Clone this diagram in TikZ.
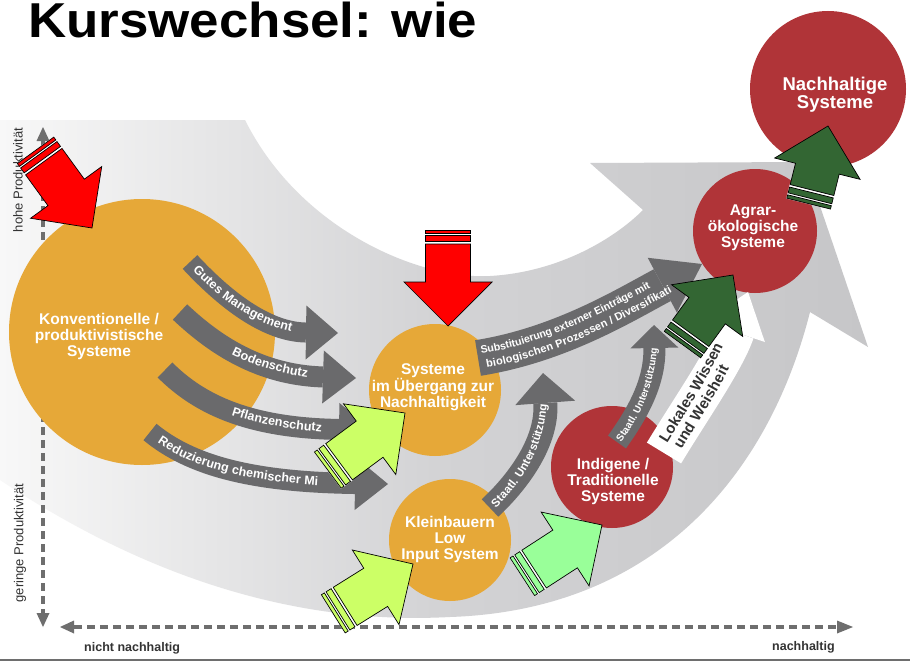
\documentclass[tikz,border=0pt]{standalone}
\usepackage{fontspec}
\setmainfont{Liberation Sans}
\usepackage{graphicx}
\usetikzlibrary{arrows.meta,decorations.text}

\definecolor{orangeC}{HTML}{E6A838}
\definecolor{redC}{HTML}{B03438}
\definecolor{arrowgrey}{HTML}{6A6A6C}
\definecolor{axisgrey}{HTML}{6E6E6E}
\definecolor{textgrey}{HTML}{333333}
\definecolor{limeC}{HTML}{CCFF66}
\definecolor{lgreenC}{HTML}{99FF99}
\definecolor{dgreenC}{HTML}{336633}
\definecolor{swooshL}{HTML}{F8F8F8}
\definecolor{swooshM}{HTML}{D3D3D5}
\definecolor{swooshR}{HTML}{C6C6C8}

\tikzset{
  pics/blockarrow/.style n args={2}{code={
    \fill[white] (-44-#2+1,-23) rectangle (-44-#2-14.5,23);
    \draw[fill=#1, draw=black, line width=0.7pt, line join=miter]
      (0,0) -- (-44,44) -- (-44,22.5) -- (-44-#2,22.5) -- (-44-#2,-22.5) -- (-44,-22.5) -- (-44,-44) -- cycle;
    \draw[fill=#1, draw=black, line width=0.7pt] (-44-#2-2.5,-22.5) rectangle (-44-#2-8.5,22.5);
    \draw[fill=#1, draw=black, line width=0.7pt] (-44-#2-10.5,-22.5) rectangle (-44-#2-14,22.5);
  }},
  circ/.style={circle, inner sep=0pt, minimum size=#1},
  ctext/.style={text=white, font=\bfseries\fontsize{15.5}{16}\selectfont, align=center},
  axisline/.style={axisgrey, line width=3.5pt, dash pattern=on 8pt off 5pt},
  band/.style={arrowgrey, line width=#1},
  lbl/.style={text=textgrey, inner sep=0pt},
}

\begin{document}
\begin{tikzpicture}[x=1pt,y=-1pt]
\fill[white] (0,0) rectangle (910,661);
\useasboundingbox (0,0) rectangle (910,661);

% big grey swoosh
\shade[left color=swooshL, right color=swooshR, middle color=swooshM]
  (0,120) -- (245,120)
  .. controls (300,230) and (420,280) .. (490,276)
  .. controls (560,272) and (615,238) .. (643,210)
  -- (590,163) -- (805,162) -- (868,347) -- (810,312)
  .. controls (770,470) and (660,610) .. (450,617)
  .. controls (300,625) and (150,580) .. (0,480) -- cycle;

% axes
\draw[axisline, {Triangle[length=14pt,width=13pt,line width=0pt]}-{Triangle[length=14pt,width=13pt,line width=0pt]}] (43,127) -- (43,627);
\draw[axisline, {Triangle[length=14pt,width=13pt,line width=0pt]}-{Triangle[length=16pt,width=13pt,line width=0pt]}] (60,627) -- (853,627);
\node[lbl, rotate=90, font=\fontsize{13}{13}\selectfont] (hohe) at (18,180) {hohe Produktivität};
\node[lbl, rotate=90, font=\fontsize{13}{13}\selectfont] (gering) at (20,543) {geringe Produktivität};
\node[lbl, anchor=west, font=\bfseries\fontsize{12.5}{12.5}\selectfont] (nn) at (84,648) {nicht nachhaltig};
\node[lbl, anchor=west, font=\bfseries\fontsize{12.5}{12.5}\selectfont] (nh) at (772,647) {nachhaltig};
\fill[axisgrey] (0,658.5) rectangle (910,661);

% title
\node[anchor=base west, inner sep=0pt] (title) at (28,38) {\scalebox{1.08}[1]{\fontsize{49}{49}\selectfont\bfseries Kurswechsel: wie}};

% circles
\node[circ=266pt, fill=orangeC] (konv) at (142,332) {};
\node[circ=132pt, fill=orangeC] (ueber) at (435,390) {};
\node[circ=122pt, fill=orangeC] (klein) at (450,540) {};
\node[circ=122pt, fill=redC] (indi) at (612,467) {};
\node[circ=124pt, fill=redC] (agrar) at (755,231) {};
\node[circ=156pt, fill=redC] (nachh) at (828,89) {};

\node[ctext] (konvT) at (99,336) {Konventionelle /\\produktivistische\\Systeme};
\node[ctext] (ueberT) at (433,387) {Systeme\\im Übergang zur\\Nachhaltigkeit};
\node[ctext] (kleinT) at (450,539) {Kleinbauern\\Low\\Input System};
\node[ctext] (indiT) at (613,481) {Indigene /\\Traditionelle\\Systeme};
\node[ctext] (agrarT) at (753,228) {Agrar-\\ökologische\\Systeme};
\node[ctext, font=\bfseries\fontsize{18.5}{16.5}\selectfont] (nachhT) at (835,95) {Nachhaltige\\Systeme};

% grey curved arrows
\draw[band=20pt, -{Triangle[length=32pt,width=54pt,line width=0pt]}]
  (190,262) .. controls (230,305) and (270,332) .. (338,333);
\path[decorate, decoration={text along path, text={|\bfseries\fontsize{12.5}{12.5}\selectfont|Gutes Management}, text color=white, text align={left indent=8pt}, raise=-4pt}]
  (190,262) .. controls (230,305) and (270,332) .. (338,333);

\draw[band=21pt, -{Triangle[length=33pt,width=53pt,line width=0pt]}]
  (180,312) .. controls (215,345) and (260,375) .. (356,378);
\path[decorate, decoration={text along path, text={|\bfseries\fontsize{12.5}{12.5}\selectfont|Bodenschutz}, text color=white, text align={left indent=66pt}, raise=-4pt}]
  (180,312) .. controls (215,345) and (260,375) .. (356,378);

\draw[band=21pt, -{Triangle[length=33pt,width=53pt,line width=0pt]}]
  (165,370) .. controls (200,405) and (250,428) .. (372,430);
\path[decorate, decoration={text along path, text={|\bfseries\fontsize{12.5}{12.5}\selectfont|Pflanzenschutz}, text color=white, text align={left indent=80pt}, raise=-4pt}]
  (165,370) .. controls (200,405) and (250,428) .. (372,430);

\draw[band=21pt, -{Triangle[length=33pt,width=53pt,line width=0pt]}]
  (150,432) .. controls (190,465) and (250,482) .. (388,484);
\path[decorate, decoration={text along path, text={|\bfseries\fontsize{12.5}{12.5}\selectfont|Reduzierung chemischer Mi}, text color=white, text align={left indent=12pt}, raise=-4pt}]
  (150,432) .. controls (190,465) and (250,482) .. (388,484);

\draw[band=36pt, -{Triangle[length=45pt,width=62pt,line width=0pt]}]
  (478,358) .. controls (560,345) and (625,305) .. (702,264);
\path[decorate, decoration={text along path, text={|\bfseries\fontsize{10.6}{10.6}\selectfont|Substituierung externer Einträge mit}, text color=white, text align={left indent=4pt}, raise=3.5pt}]
  (478,358) .. controls (560,345) and (625,305) .. (702,264);
\path[decorate, decoration={text along path, text={|\bfseries\fontsize{11}{11}\selectfont|biologischen Prozessen / Diversifikati}, text color=white, text align={left indent=7pt}, raise=-11pt}]
  (478,358) .. controls (560,345) and (625,305) .. (702,264);

\draw[band=24pt, -{Triangle[length=30pt,width=60pt,line width=0pt]}]
  (490,508) .. controls (520,480) and (548,440) .. (543,373);
\path[decorate, decoration={text along path, text={|\bfseries\fontsize{11.5}{11.5}\selectfont|Staatl. Unterstützung}, text color=white, text align={left indent=4pt}, raise=-4pt}]
  (490,508) .. controls (520,480) and (548,440) .. (543,373);

\draw[band=22pt, -{Triangle[length=23pt,width=48pt,line width=0pt]}]
  (617,442) .. controls (640,410) and (655,380) .. (654,325);
\path[decorate, decoration={text along path, text={|\bfseries\fontsize{10}{10}\selectfont|Staatl. Unterstützung}, text color=white, text align={left indent=2pt}, raise=-3.6pt}]
  (617,442) .. controls (640,410) and (655,380) .. (654,325);

% white arrow
\draw[white, line width=40pt, -{Triangle[length=42pt,width=64pt,line width=0pt]}]
  (664,453) .. controls (690,410) and (725,360) .. (748,292);
\path[decorate, decoration={text along path, text={|\bfseries\fontsize{15}{15}\selectfont|Lokales Wissen}, text color=textgrey, text align={left indent=10pt}, raise=2.5pt}]
  (664,453) .. controls (690,410) and (725,360) .. (748,292);
\path[decorate, decoration={text along path, text={|\bfseries\fontsize{15}{15}\selectfont|und Weisheit}, text color=textgrey, text align={left indent=12pt}, raise=-13pt}]
  (664,453) .. controls (690,410) and (725,360) .. (748,292);

% block arrows
\pic[rotate=-54] at (92,228) {blockarrow={red}{38}};
\pic[rotate=-90] at (448,326) {blockarrow={red}{38}};
\pic[rotate=36.5] at (405,413) {blockarrow={limeC}{38}};
\pic[rotate=32] at (413,564) {blockarrow={limeC}{36}};
\pic[rotate=33] at (602,525) {blockarrow={lgreenC}{37}};
\pic[rotate=54] at (733,275) {blockarrow={dgreenC}{28}};
\pic[rotate=76] at (828,126) {blockarrow={dgreenC}{22}};
\end{tikzpicture}
\end{document}
